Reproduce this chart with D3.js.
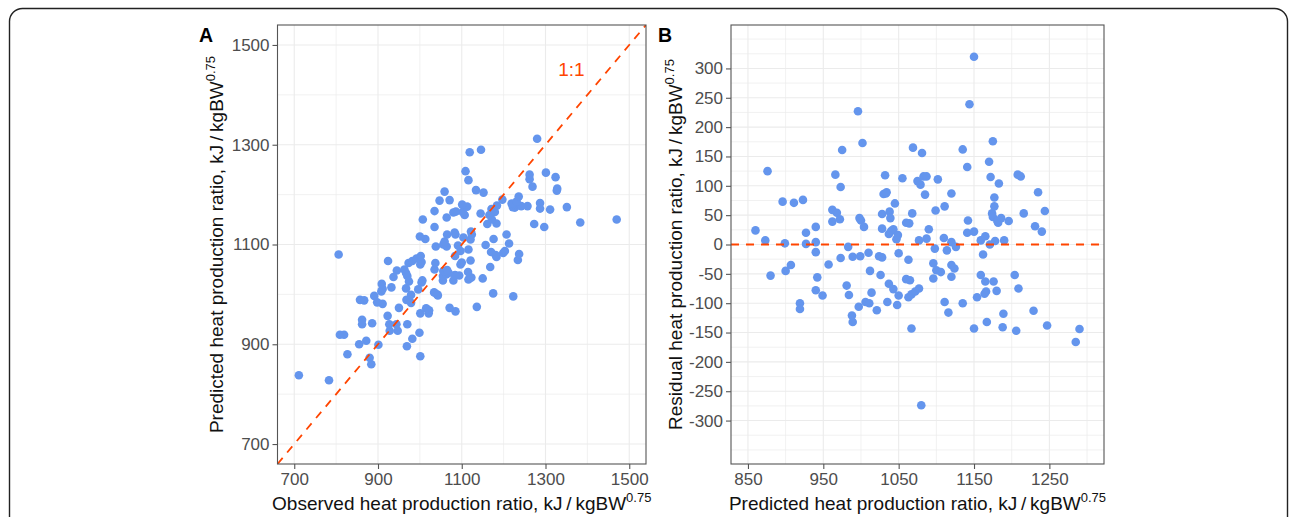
<!DOCTYPE html>
<html>
<head>
<meta charset="utf-8">
<script src="https://cdn.jsdelivr.net/npm/d3@7"></script>
<style>
  html, body { margin: 0; padding: 0; background: #fff; }
  svg { display: block; font-family: "Liberation Sans", Arial, sans-serif; }
</style>
</head>
<body>
<svg id="chart" width="1290" height="517"></svg>
<script>
// predicted and observed heat production ratio, kJ/kgBW^0.75 (one entry per animal)
const predicted = [
  860, 873, 876, 880, 896, 899, 900, 907, 911, 919, 919, 923, 927, 927, 940, 940, 940, 942, 940, 949,
  957, 962, 962, 966, 968, 972, 973, 973, 975, 983, 981, 984, 988, 989, 989, 996, 997, 998, 999, 1000,
  1002, 1004, 1006, 1010, 1011, 1012, 1014, 1021, 1024, 1028, 1026, 1028, 1028, 1030, 1032, 1033, 1034, 1035, 1037, 1037,
  1038, 1039, 1040, 1043, 1043, 1045, 1047, 1048, 1049, 1050, 1050, 1055, 1060, 1060, 1063, 1063, 1064, 1065, 1067, 1067,
  1068, 1069, 1072, 1075, 1077, 1077, 1079, 1080, 1081, 1083, 1087, 1085, 1087, 1090, 1096, 1096, 1098, 1099, 1100, 1102,
  1106, 1110, 1111, 1111, 1114, 1116, 1120, 1120, 1120, 1120, 1124, 1126, 1135, 1135, 1141, 1142, 1141, 1144, 1150, 1150,
  1150, 1154, 1159, 1159, 1162, 1165, 1165, 1166, 1164, 1167, 1170, 1172, 1171, 1174, 1175, 1175, 1176, 1177, 1177, 1178,
  1180, 1181, 1182, 1183, 1186, 1188, 1189, 1190, 1196, 1204, 1206, 1208, 1209, 1212, 1216, 1229, 1231, 1235, 1240, 1244,
  1247, 1285, 1290, 838, 828, 1312
];
const observed = [
  884, 880, 1001, 827, 969, 901, 855, 872, 982, 819, 809, 999, 947, 928, 970, 944, 927, 886, 862, 862,
  923, 1001, 1021, 1085, 1022, 1015, 1071, 950, 1136, 979, 911, 898, 867, 857, 968, 1223, 891, 1043, 979, 1041,
  1175, 1034, 908, 996, 911, 967, 932, 909, 1004, 1006, 974, 1080, 1055, 1116, 1150, 1120, 1123, 937, 970, 1055,
  1094, 1084, 1063, 1069, 967, 1115, 1056, 945, 1065, 1035, 963, 1168, 1097, 1001, 1037, 973, 1100, 1004, 982, 924,
  1121, 1234, 992, 1183, 1002, 1084, 1181, 806, 1237, 1199, 1203, 1170, 1097, 1116, 1064, 1038, 1091, 1157, 1056, 1213,
  1059, 1121, 1176, 1013, 1104, 1000, 1207, 1124, 1085, 1065, 1083, 1122, 1297, 1035, 1273, 1183, 1161, 1383, 1470, 1172,
  1007, 1064, 1107, 1166, 1145, 1179, 1102, 1086, 1080, 1035, 1311, 1287, 1171, 1227, 1351, 1222, 1113, 1257, 1242, 1184,
  1101, 1221, 1219, 1287, 1231, 1047, 1071, 1197, 1236, 1152, 1059, 1327, 1134, 1328, 1269, 1116, 1262, 1324, 1262, 1301,
  1109, 1119, 1146, 711, 783, 1280
];

const limitsA = [700, 1500];
const ticksA = [700, 900, 1100, 1300, 1500];
const minorA = [800, 1000, 1200, 1400];

const limitsBx = [850, 1300];
const ticksBx = [850, 950, 1050, 1150, 1250];
const minorBx = [900, 1000, 1100, 1200, 1300];

const limitsBy = [-340, 340];
const ticksBy = [-300, -250, -200, -150, -100, -50, 0, 50, 100, 150, 200, 250, 300];
const minorBy = [-350, -325, -275, -225, -175, -125, -75, -25, 25, 75, 125, 175, 225, 275, 325, 350];

const POINT_COLOR = '#6495ED';
const REF_COLOR = '#FF4500';
const GRID_COLOR = '#ebebeb';
const BORDER_COLOR = '#555';
const TICK_TEXT = '#4d4d4d';

// ggplot-style 5% expansion of the limits
function expand(lim) {
    const pad = (lim[1] - lim[0]) * 0.05;
    return [lim[0] - pad, lim[1] + pad];
}

const svg = d3.select('#chart');

// outer rounded frame
svg.append('rect')
    .attr('x', 9.5).attr('y', 8.5)
    .attr('width', 1278).attr('height', 560)
    .attr('rx', 13)
    .attr('fill', 'none')
    .attr('stroke', '#222')
    .attr('stroke-width', 1.4);

function drawPanel(cfg) {
    const g = svg.append('g');
    const x = d3.scaleLinear().domain(expand(cfg.xLim)).range([cfg.left, cfg.right]);
    const y = d3.scaleLinear().domain(expand(cfg.yLim)).range([cfg.bottom, cfg.top]);

    // grid
    const grid = g.append('g');
    cfg.xMinor.forEach(v => grid.append('line')
        .attr('x1', x(v)).attr('x2', x(v)).attr('y1', cfg.top).attr('y2', cfg.bottom)
        .attr('stroke', GRID_COLOR).attr('stroke-width', 0.7));
    cfg.yMinor.forEach(v => grid.append('line')
        .attr('y1', y(v)).attr('y2', y(v)).attr('x1', cfg.left).attr('x2', cfg.right)
        .attr('stroke', GRID_COLOR).attr('stroke-width', 0.7));
    cfg.xTicks.forEach(v => grid.append('line')
        .attr('x1', x(v)).attr('x2', x(v)).attr('y1', cfg.top).attr('y2', cfg.bottom)
        .attr('stroke', GRID_COLOR).attr('stroke-width', 1.1));
    cfg.yTicks.forEach(v => grid.append('line')
        .attr('y1', y(v)).attr('y2', y(v)).attr('x1', cfg.left).attr('x2', cfg.right)
        .attr('stroke', GRID_COLOR).attr('stroke-width', 1.1));

    const clipId = 'clip-' + cfg.name;
    svg.append('clipPath').attr('id', clipId)
        .append('rect')
        .attr('x', cfg.left).attr('y', cfg.top)
        .attr('width', cfg.right - cfg.left).attr('height', cfg.bottom - cfg.top);

    const plot = g.append('g').attr('clip-path', `url(#${clipId})`);

    // points
    plot.selectAll('circle')
        .data(cfg.data)
        .join('circle')
        .attr('cx', d => x(d[0]))
        .attr('cy', d => y(d[1]))
        .attr('r', 4.3)
        .attr('fill', POINT_COLOR);

    cfg.reference(plot, x, y);

    // border
    g.append('rect')
        .attr('x', cfg.left).attr('y', cfg.top)
        .attr('width', cfg.right - cfg.left).attr('height', cfg.bottom - cfg.top)
        .attr('fill', 'none')
        .attr('stroke', BORDER_COLOR)
        .attr('stroke-width', 1.1);

    // axes
    const xAxis = g.append('g')
        .attr('transform', `translate(0,${cfg.bottom})`)
        .call(d3.axisBottom(x).tickValues(cfg.xTicks).tickFormat(d3.format('d'))
            .tickSize(5).tickPadding(4));
    const yAxis = g.append('g')
        .attr('transform', `translate(${cfg.left},0)`)
        .call(d3.axisLeft(y).tickValues(cfg.yTicks).tickFormat(v => String(v))
            .tickSize(5).tickPadding(3));
    [xAxis, yAxis].forEach(a => {
        a.select('.domain').remove();
        a.selectAll('.tick line').attr('stroke', BORDER_COLOR).attr('stroke-width', 1.1);
        a.selectAll('.tick text')
            .attr('fill', TICK_TEXT)
            .attr('font-size', 17)
            .attr('font-family', '"Liberation Sans", Arial, sans-serif');
    });

    // axis titles
    const cx = (cfg.left + cfg.right) / 2;
    const cy = (cfg.top + cfg.bottom) / 2;
    const xt = g.append('text')
        .attr('x', cx).attr('y', 510)
        .attr('text-anchor', 'middle')
        .attr('font-size', 19)
        .attr('fill', '#111');
    xt.append('tspan').text(cfg.xTitle + ', kJ\u2009/\u2009kgBW');
    xt.append('tspan').attr('dy', -8).attr('font-size', 13).text('0.75');

    const yt = g.append('text')
        .attr('transform', `translate(${cfg.yTitleX},${cy}) rotate(-90)`)
        .attr('text-anchor', 'middle')
        .attr('font-size', 19)
        .attr('fill', '#111');
    yt.append('tspan').text(cfg.yTitle + ', kJ\u2009/\u2009kgBW');
    yt.append('tspan').attr('dy', -8).attr('font-size', 13).text('0.75');

    // panel tag
    g.append('text')
        .attr('x', cfg.tagX).attr('y', 42)
        .attr('font-size', 19.5)
        .attr('font-weight', 'bold')
        .attr('fill', '#000')
        .text(cfg.name);
}

const dataA = predicted.map((p, i) => [observed[i], p]);
const dataB = predicted
    .map((p, i) => [p, observed[i] - p])
    .filter(d => d[0] >= limitsBx[0] && d[0] <= limitsBx[1]);

drawPanel({
    name: 'A', tagX: 199,
    left: 277.5, right: 646, top: 25, bottom: 464,
    xLim: limitsA, yLim: limitsA,
    xTicks: ticksA, yTicks: ticksA, xMinor: minorA, yMinor: minorA,
    data: dataA,
    xTitle: 'Observed heat production ratio',
    yTitle: 'Predicted heat production ratio',
    yTitleX: 222.5,
    reference(plot, x, y) {
        const d = expand(limitsA);
        plot.append('line')
            .attr('x1', x(d[0])).attr('y1', y(d[0]))
            .attr('x2', x(d[1])).attr('y2', y(d[1]))
            .attr('stroke', REF_COLOR)
            .attr('stroke-width', 1.8)
            .attr('stroke-dasharray', '8,7');
        plot.append('text')
            .attr('x', x(1362)).attr('y', y(1450))
            .attr('text-anchor', 'middle')
            .attr('dominant-baseline', 'central')
            .attr('font-size', 19)
            .attr('fill', REF_COLOR)
            .text('1:1');
    }
});

drawPanel({
    name: 'B', tagX: 658,
    left: 731, right: 1104, top: 25, bottom: 464,
    xLim: limitsBx, yLim: limitsBy,
    xTicks: ticksBx, yTicks: ticksBy, xMinor: minorBx, yMinor: minorBy,
    data: dataB,
    xTitle: 'Predicted heat production ratio',
    yTitle: 'Residual heat production ratio',
    yTitleX: 682,
    reference(plot, x, y) {
        plot.append('line')
            .attr('x1', x.range()[0]).attr('x2', x.range()[1])
            .attr('y1', y(0)).attr('y2', y(0))
            .attr('stroke', REF_COLOR)
            .attr('stroke-width', 1.8)
            .attr('stroke-dasharray', '8,7');
    }
});
</script>
</body>
</html>
